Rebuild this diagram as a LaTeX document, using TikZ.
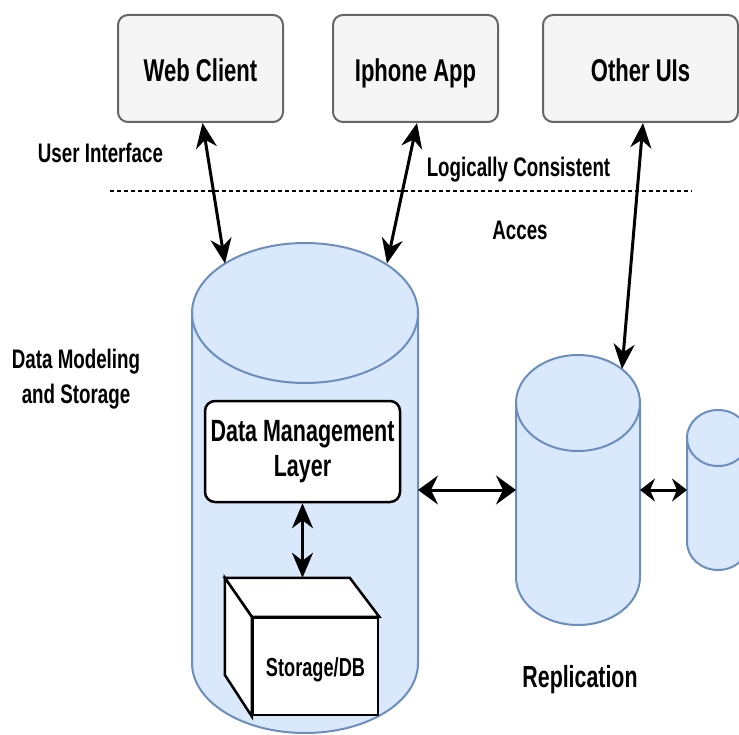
\documentclass[tikz,border=0pt]{standalone}
\usepackage{fontspec}
\setmainfont{Liberation Sans}[FakeStretch=0.7]
\usetikzlibrary{arrows.meta,calc}
\definecolor{boxfill}{HTML}{F5F5F5}
\definecolor{boxline}{HTML}{666666}
\definecolor{cylfill}{HTML}{DAE8FC}
\definecolor{cylline}{HTML}{6C8EBF}

\begin{document}
\begin{tikzpicture}[x=1pt,y=1pt,
  uibox/.style={draw=boxline, fill=boxfill, line width=2pt, rounded corners=10pt,
    minimum height=107pt, inner sep=0pt, text height=27pt, text depth=0pt,
    font=\bfseries\fontsize{31.5}{36}\selectfont},
  lbl/.style={inner sep=0pt, align=center, font=\bfseries\fontsize{26.8}{35}\selectfont},
  cyl/.style={draw=cylline, fill=cylfill, line width=2pt},
  ghost/.style={inner sep=0pt, outer sep=0pt},
  cubeface/.style={draw=black, fill=white, line width=2.5pt},
  vlink/.style={line width=3pt, >={Stealth[length=25pt,width=21pt,inset=8pt]}, <->},
  hlink/.style={line width=3pt, >={Stealth[length=20pt,width=29pt,inset=7pt]}, <->},
  hlinksmall/.style={line width=3pt, >={Stealth[length=15pt,width=23pt,inset=5pt]}, <->},
  sep/.style={line width=1.5pt, dash pattern=on 4pt off 3pt}
]
\clip (0,0) rectangle (739,-735);

% client boxes
\node[uibox, minimum width=165pt] (web) at (200.5,-68.5) {Web Client};
\node[uibox, minimum width=165pt] (iphone) at (415.5,-68.5) {Iphone App};
\node[uibox, minimum width=195pt] (other) at (640.5,-68.5) {Other UIs};

% layer separator
\coordinate (sepL) at (110,-191);
\coordinate (sepR) at (692,-191);
\draw[sep] (sepL) -- (sepR);

% main store cylinder
\path[cyl] (192,-313) -- (192,-663)
  arc[start angle=180, end angle=360, x radius=113pt, y radius=70pt]
  -- (418,-313)
  arc[start angle=0, end angle=180, x radius=113pt, y radius=70pt] -- cycle;
\draw[cyl, fill=none] (192,-313)
  arc[start angle=180, end angle=360, x radius=113pt, y radius=70pt];
\node[ghost, minimum width=226pt, minimum height=490pt] (store) at (305,-488) {};

% replica cylinder
\path[cyl] (516,-403) -- (516,-577)
  arc[start angle=180, end angle=360, x radius=62pt, y radius=48pt]
  -- (640,-403)
  arc[start angle=0, end angle=180, x radius=62pt, y radius=48pt] -- cycle;
\draw[cyl, fill=none] (516,-403)
  arc[start angle=180, end angle=360, x radius=62pt, y radius=48pt];
\node[ghost, minimum width=124pt, minimum height=270pt] (repl) at (578,-490) {};

% second replica cylinder
\path[cyl] (687,-438) -- (687,-542)
  arc[start angle=180, end angle=360, x radius=31pt, y radius=28pt]
  -- (749,-438)
  arc[start angle=0, end angle=180, x radius=31pt, y radius=28pt] -- cycle;
\draw[cyl, fill=none] (687,-438)
  arc[start angle=180, end angle=360, x radius=31pt, y radius=28pt];
\node[ghost, minimum width=62pt, minimum height=160pt] (mirror) at (718,-490) {};

% data management layer
\node[draw, fill=white, line width=2.5pt, rounded corners=10pt,
  minimum width=195pt, minimum height=101pt, inner sep=0pt, align=center,
  font=\bfseries\fontsize{30.7}{35}\selectfont] (dml) at (302.5,-451.5)
  {\raisebox{-3pt}{Data Management}\\\raisebox{-3pt}{Layer}};

% storage cube
\node[cubeface, minimum width=125pt, minimum height=97pt, inner sep=0pt,
  text height=19pt, text depth=0pt,
  font=\bfseries\fontsize{26}{30}\selectfont] (db) at (315.5,-666.5) {Storage/DB};
\draw[cubeface] (db.north west) -- ++(-27,39) -- ++(125,0) -- (db.north east) -- cycle;
\draw[cubeface] (db.north west) -- ++(-27,39) -- ++(0,-97) -- (db.south west) -- cycle;
\coordinate (dbtop) at ($(db.north)+(-13.5,39)$);

% connectors
\coordinate (storeL) at (225,-263.5);
\coordinate (storeR) at (387,-263.5);
\coordinate (replTop) at (622,-369);
\draw[vlink] ([xshift=2pt]web.south) -- (storeL);
\draw[vlink] ([xshift=1.5pt]iphone.south) -- (storeR);
\draw[vlink] ([xshift=2.5pt]other.south) -- (replTop);
\draw[vlink] (dml.south) -- (dml.south |- dbtop);
\draw[hlink] (store.east |- repl.west) -- (repl.west);
\draw[hlinksmall] (repl.east) -- (mirror.west);

% labels
\node[lbl, anchor=base] (ui) at (100.5,-163) {User Interface};
\node[lbl, anchor=base] (lc) at (518.5,-177) {Logically Consistent};
\node[lbl, anchor=base] (acc) at (520,-240) {Acces};
\node[lbl] (dms) at (76,-379.5) {Data Modeling\\and Storage};
\node[lbl, anchor=base, font=\bfseries\fontsize{30.5}{35}\selectfont] (rep) at (580,-687) {Replication};
\end{tikzpicture}
\end{document}
